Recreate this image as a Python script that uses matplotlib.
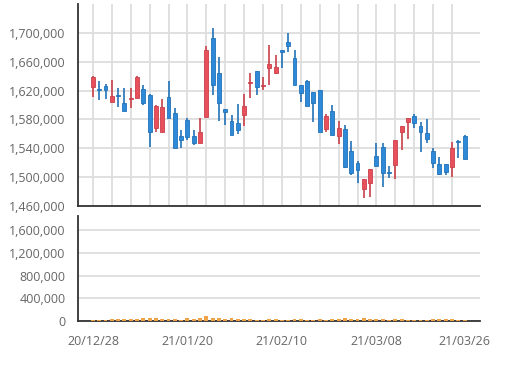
import numpy as np
import matplotlib
matplotlib.use('Agg')
import matplotlib.pyplot as plt
from matplotlib.ticker import FuncFormatter

plt.rcParams['font.family'] = ['Open Sans', 'DejaVu Sans']

dates = ['20/12/28', '21/01/20', '21/02/10', '21/03/08', '21/03/26']
date_idx = [0, 15, 30, 45, 59]

opens = [1625000, 1622000, 1626000, 1604000, 1613000, 1603000, 1608000, 1610000, 1622000, 1614000,
         1568000, 1563000, 1611000, 1589000, 1557000, 1579000, 1557000, 1547000, 1583000, 1693000,
         1644000, 1595000, 1578000, 1575000, 1586000, 1631000, 1647000, 1626000, 1651000, 1644000,
         1676000, 1688000, 1665000, 1628000, 1633000, 1618000, 1621000, 1567000, 1592000, 1557000,
         1567000, 1536000, 1520000, 1484000, 1492000, 1529000, 1542000, 1507000, 1517000, 1563000,
         1577000, 1585000, 1571000, 1561000, 1536000, 1518000, 1518000, 1514000, 1550000, 1557000]
closes = [1639000, 1621000, 1621000, 1613000, 1612000, 1592000, 1610000, 1639000, 1603000, 1563000,
          1599000, 1597000, 1582000, 1540000, 1552000, 1556000, 1547000, 1563000, 1676000, 1628000,
          1603000, 1590000, 1558000, 1565000, 1599000, 1632000, 1625000, 1627000, 1657000, 1653000,
          1674000, 1682000, 1628000, 1617000, 1599000, 1603000, 1563000, 1585000, 1559000, 1568000,
          1514000, 1506000, 1510000, 1497000, 1511000, 1515000, 1506000, 1505000, 1552000, 1571000,
          1582000, 1575000, 1563000, 1553000, 1520000, 1504000, 1507000, 1540000, 1548000, 1525000]
highs = [1640000, 1633000, 1629000, 1635000, 1624000, 1624000, 1624000, 1640000, 1627000, 1615000,
         1600000, 1608000, 1633000, 1596000, 1565000, 1582000, 1565000, 1582000, 1682000, 1707000,
         1667000, 1595000, 1586000, 1601000, 1615000, 1644000, 1647000, 1639000, 1683000, 1669000,
         1676000, 1700000, 1676000, 1628000, 1635000, 1618000, 1621000, 1588000, 1600000, 1578000,
         1572000, 1550000, 1522000, 1497000, 1511000, 1547000, 1547000, 1515000, 1552000, 1571000,
         1582000, 1588000, 1577000, 1581000, 1540000, 1528000, 1518000, 1549000, 1551000, 1558000]
lows = [1611000, 1607000, 1608000, 1604000, 1597000, 1592000, 1596000, 1610000, 1600000, 1542000,
        1563000, 1563000, 1582000, 1540000, 1540000, 1552000, 1545000, 1547000, 1583000, 1614000,
        1578000, 1572000, 1558000, 1560000, 1571000, 1610000, 1614000, 1621000, 1628000, 1643000,
        1651000, 1674000, 1628000, 1604000, 1599000, 1577000, 1563000, 1563000, 1559000, 1546000,
        1513000, 1503000, 1492000, 1471000, 1472000, 1515000, 1486000, 1499000, 1497000, 1538000,
        1553000, 1568000, 1535000, 1547000, 1513000, 1503000, 1503000, 1500000, 1527000, 1525000]
volumes = [18000, 18000, 18000, 36000, 36000, 36000, 36000, 36000, 59000, 59000,
           59000, 36000, 36000, 36000, 18000, 59000, 36000, 59000, 89000, 59000,
           59000, 36000, 59000, 36000, 36000, 36000, 18000, 18000, 36000, 36000,
           18000, 18000, 36000, 36000, 18000, 18000, 36000, 18000, 36000, 36000,
           59000, 36000, 36000, 59000, 36000, 36000, 36000, 18000, 36000, 36000,
           18000, 18000, 18000, 18000, 36000, 36000, 36000, 36000, 18000, 18000]

up_color = '#e8505b'
down_color = '#2e8ad8'
up_edge = '#c8404a'
down_edge = '#2272b8'
vol_color = '#eea347'
grid_color = '#dddddd'
text_color = '#666666'

x = np.arange(len(opens))
o = np.array(opens)
c = np.array(closes)
is_up = c > o
colors = [up_color if u else down_color for u in is_up]
edges = [up_edge if u else down_edge for u in is_up]
body_bottom = np.minimum(o, c)
body_height = np.maximum(np.abs(c - o), 1500)

fig = plt.figure(figsize=(5.12, 3.67), dpi=100)
ax = fig.add_axes([0.152, 0.439, 0.785, 0.55])
ax2 = fig.add_axes([0.152, 0.125, 0.785, 0.286])

ax.vlines(x, lows, highs, colors=edges, linewidth=1.2, zorder=3)
ax.bar(x, body_height, bottom=body_bottom, width=0.62, color=colors,
       edgecolor=edges, linewidth=0.6, zorder=4)

ax.set_xlim(-2.4, 61.4)
ax.set_ylim(1460000, 1740000)
ax.set_yticks(np.arange(1460000, 1700001, 40000))
ax.set_xticks(np.arange(0, 60, 3))
ax.set_xticklabels([])
ax.grid(True, color=grid_color, linewidth=1.3, zorder=0)

ax2.bar(x, volumes, width=0.62, color=vol_color, zorder=3)
ax2.set_xlim(-2.4, 61.4)
ax2.set_ylim(0, 1850000)
ax2.set_yticks(np.arange(0, 1600001, 400000))
ax2.set_xticks(date_idx)
ax2.set_xticklabels(dates)
ax2.grid(True, axis='y', color=grid_color, linewidth=1.3, zorder=0)

fmt = FuncFormatter(lambda v, p: '{:,.0f}'.format(v))
for a in (ax, ax2):
    a.yaxis.set_major_formatter(fmt)
    a.spines['top'].set_visible(False)
    a.spines['right'].set_visible(False)
    a.spines['left'].set_color('#333333')
    a.spines['bottom'].set_color('#333333')
    a.spines['left'].set_linewidth(1.3)
    a.spines['bottom'].set_linewidth(1.3)
    a.tick_params(axis='both', length=0, labelsize=9, colors=text_color)
    a.tick_params(axis='y', pad=9)
    a.set_axisbelow(True)
ax2.tick_params(axis='x', pad=10)

fig.savefig('out.png', dpi=100)
